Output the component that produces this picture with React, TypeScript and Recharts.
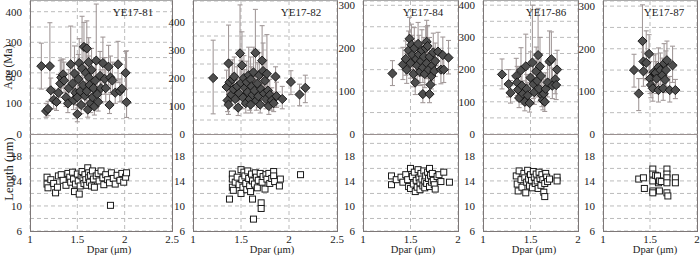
import { CartesianGrid, ErrorBar, Scatter, ScatterChart, XAxis, YAxis } from "recharts";

// [dpar, age, errLow, errHigh]
type AgePt = [number, number, number, number];
// [dpar, length]
type LenPt = [number, number];

const AGE_81: AgePt[] = [
  [1.12, 222, 75, 75], [1.21, 222, 72, 142], [1.17, 75, 20, 25], [1.19, 82, 22, 25],
  [1.22, 143, 35, 40], [1.25, 112, 30, 35], [1.28, 105, 28, 32], [1.3, 135, 35, 60],
  [1.32, 165, 45, 75], [1.33, 185, 50, 60], [1.35, 195, 45, 50], [1.36, 175, 40, 60],
  [1.38, 120, 30, 40], [1.4, 100, 30, 40], [1.41, 150, 40, 60], [1.43, 228, 70, 125],
  [1.45, 165, 45, 60], [1.46, 110, 30, 40], [1.47, 198, 60, 90], [1.48, 135, 40, 50],
  [1.5, 120, 35, 45], [1.5, 65, 25, 30], [1.51, 180, 50, 80], [1.52, 232, 65, 80],
  [1.53, 140, 40, 50], [1.54, 95, 28, 35], [1.55, 215, 60, 170], [1.56, 160, 45, 60],
  [1.57, 285, 70, 80], [1.58, 125, 35, 45], [1.59, 200, 55, 90], [1.6, 280, 75, 90],
  [1.6, 140, 40, 50], [1.61, 80, 25, 30], [1.62, 235, 65, 80], [1.62, 185, 50, 70],
  [1.63, 160, 50, 60], [1.64, 100, 30, 40], [1.65, 210, 60, 70], [1.66, 120, 35, 45],
  [1.67, 150, 40, 55], [1.68, 90, 28, 35], [1.69, 175, 50, 60], [1.7, 240, 90, 185],
  [1.71, 130, 40, 50], [1.72, 105, 30, 40], [1.74, 190, 55, 80], [1.75, 150, 45, 60],
  [1.77, 232, 65, 85], [1.79, 180, 50, 70], [1.8, 150, 45, 60], [1.83, 220, 60, 70],
  [1.84, 95, 28, 35], [1.85, 185, 50, 70], [1.87, 175, 45, 60], [1.9, 135, 35, 45],
  [1.93, 228, 60, 75], [1.95, 140, 35, 40], [1.97, 148, 40, 50], [2.01, 200, 55, 70],
  [2.02, 104, 50, 168],
];

const LEN_81: LenPt[] = [
  [1.18, 14.6], [1.18, 13.5], [1.19, 12.9], [1.22, 14.2], [1.25, 13.6], [1.27, 12.1],
  [1.29, 13.0], [1.3, 14.8], [1.33, 15.0], [1.35, 14.1], [1.38, 13.3], [1.4, 15.2],
  [1.42, 14.6], [1.43, 13.8], [1.45, 15.4], [1.46, 14.3], [1.47, 12.3], [1.48, 13.5],
  [1.5, 15.1], [1.51, 14.0], [1.52, 11.9], [1.53, 13.2], [1.54, 14.8], [1.55, 15.5],
  [1.56, 14.4], [1.57, 13.6], [1.58, 15.0], [1.59, 14.2], [1.6, 13.3], [1.61, 16.1],
  [1.62, 15.3], [1.62, 14.5], [1.63, 13.8], [1.64, 14.9], [1.65, 13.2], [1.66, 15.6],
  [1.67, 14.3], [1.68, 13.0], [1.7, 14.8], [1.72, 15.2], [1.73, 14.0], [1.75, 15.6],
  [1.77, 14.5], [1.78, 13.4], [1.8, 15.0], [1.82, 14.2], [1.84, 13.7], [1.85, 10.1],
  [1.86, 15.3], [1.88, 14.4], [1.9, 13.5], [1.92, 14.9], [1.95, 14.1], [1.97, 15.2],
  [1.99, 13.8], [2.01, 14.6], [2.02, 15.3],
];

const AGE_82: AgePt[] = [
  [1.21, 200, 128, 135], [1.35, 168, 45, 60], [1.36, 120, 40, 50], [1.37, 252, 115, 137],
  [1.37, 105, 35, 45], [1.38, 185, 50, 60], [1.4, 140, 40, 60], [1.41, 195, 50, 70],
  [1.42, 160, 45, 55], [1.43, 205, 60, 70], [1.44, 125, 35, 45], [1.46, 170, 50, 70],
  [1.47, 94, 28, 35], [1.48, 145, 40, 55], [1.49, 288, 88, 173], [1.5, 182, 55, 80],
  [1.51, 245, 80, 120], [1.52, 130, 40, 55], [1.53, 200, 60, 80], [1.54, 165, 50, 65],
  [1.55, 110, 35, 50], [1.56, 185, 55, 75], [1.57, 150, 45, 60], [1.58, 210, 60, 100],
  [1.59, 125, 40, 50], [1.6, 195, 55, 80], [1.6, 105, 30, 40], [1.61, 170, 50, 70],
  [1.62, 140, 40, 55], [1.63, 220, 65, 90], [1.64, 155, 45, 60], [1.65, 290, 100, 155],
  [1.66, 120, 35, 50], [1.67, 180, 55, 75], [1.68, 135, 40, 55], [1.69, 210, 60, 80],
  [1.7, 105, 30, 40], [1.71, 160, 50, 65], [1.72, 262, 85, 125], [1.73, 225, 65, 100],
  [1.74, 145, 40, 55], [1.75, 190, 55, 75], [1.76, 125, 35, 45], [1.77, 215, 65, 140],
  [1.78, 155, 45, 65], [1.79, 100, 30, 40], [1.8, 140, 40, 55], [1.82, 120, 35, 45],
  [1.84, 110, 30, 40], [1.86, 205, 60, 35], [1.87, 135, 40, 50], [1.93, 125, 35, 45],
  [2.02, 186, 45, 40], [2.11, 141, 40, 37], [2.17, 165, 53, 45],
];

const LEN_82: LenPt[] = [
  [1.38, 11.1], [1.41, 15.1], [1.41, 14.3], [1.41, 13.0], [1.42, 12.5], [1.44, 13.8],
  [1.46, 14.6], [1.48, 13.4], [1.5, 12.0], [1.5, 15.8], [1.51, 14.2], [1.52, 13.0],
  [1.53, 15.4], [1.54, 14.8], [1.55, 13.6], [1.56, 12.6], [1.57, 15.6], [1.58, 14.4],
  [1.59, 13.2], [1.6, 12.3], [1.61, 15.1], [1.62, 11.1], [1.62, 14.0], [1.63, 7.9],
  [1.64, 13.5], [1.65, 15.3], [1.66, 14.6], [1.67, 12.9], [1.68, 14.1], [1.7, 15.2],
  [1.71, 10.5], [1.71, 9.6], [1.72, 13.8], [1.73, 14.7], [1.75, 12.7], [1.76, 15.0],
  [1.77, 14.3], [1.79, 15.2], [1.8, 13.6], [1.82, 14.4], [1.84, 15.5], [1.84, 14.8],
  [1.85, 13.9], [1.9, 13.2], [1.91, 14.3], [2.12, 15.0],
];

const AGE_84: AgePt[] = [
  [1.31, 141, 28, 30], [1.42, 162, 35, 40], [1.45, 175, 38, 42], [1.46, 150, 32, 38],
  [1.48, 195, 40, 45], [1.49, 222, 45, 50], [1.5, 165, 35, 40], [1.51, 208, 42, 48],
  [1.52, 185, 40, 45], [1.53, 140, 30, 35], [1.54, 200, 42, 48], [1.55, 120, 28, 30],
  [1.56, 175, 38, 42], [1.57, 160, 35, 40], [1.58, 210, 45, 50], [1.59, 185, 40, 45],
  [1.6, 145, 32, 38], [1.61, 170, 36, 42], [1.62, 195, 42, 48], [1.63, 93, 20, 22],
  [1.63, 155, 35, 40], [1.64, 180, 38, 45], [1.65, 140, 32, 35], [1.66, 200, 42, 50],
  [1.67, 215, 45, 50], [1.67, 165, 36, 42], [1.68, 205, 44, 48], [1.69, 150, 34, 40],
  [1.7, 93, 20, 24], [1.7, 180, 38, 45], [1.71, 115, 25, 30], [1.72, 135, 30, 35],
  [1.73, 160, 35, 40], [1.74, 190, 40, 45], [1.75, 147, 32, 38], [1.76, 170, 36, 42],
  [1.79, 192, 40, 45], [1.82, 150, 33, 38], [1.84, 184, 40, 42], [1.85, 150, 30, 35],
  [1.9, 178, 38, 40],
];

const LEN_84: LenPt[] = [
  [1.3, 13.4], [1.3, 14.8], [1.35, 14.2], [1.4, 14.6], [1.42, 13.8], [1.45, 15.0],
  [1.47, 14.2], [1.48, 13.1], [1.5, 16.0], [1.5, 12.8], [1.52, 14.7], [1.53, 13.5],
  [1.54, 15.4], [1.55, 12.3], [1.56, 14.1], [1.57, 13.0], [1.58, 15.8], [1.59, 14.5],
  [1.6, 12.6], [1.6, 13.7], [1.61, 15.2], [1.62, 14.3], [1.63, 13.2], [1.64, 15.6],
  [1.65, 14.0], [1.65, 12.9], [1.66, 14.8], [1.67, 13.6], [1.68, 15.4], [1.69, 14.4],
  [1.7, 13.1], [1.7, 16.0], [1.71, 14.9], [1.72, 13.8], [1.73, 15.2], [1.74, 14.1],
  [1.75, 13.4], [1.76, 12.7], [1.78, 14.7], [1.8, 15.0], [1.82, 13.9], [1.85, 15.4],
  [1.91, 13.8],
];

const AGE_86: AgePt[] = [
  [1.2, 185, 45, 48], [1.27, 155, 40, 45], [1.29, 128, 32, 38], [1.35, 180, 45, 55],
  [1.36, 160, 40, 50], [1.37, 138, 35, 40], [1.38, 112, 30, 35], [1.4, 198, 55, 70],
  [1.41, 150, 40, 50], [1.42, 125, 32, 40], [1.44, 100, 28, 35], [1.45, 210, 60, 100],
  [1.46, 140, 38, 45], [1.47, 120, 32, 40], [1.49, 96, 28, 35], [1.5, 175, 50, 80],
  [1.52, 222, 70, 178], [1.53, 155, 45, 60], [1.54, 130, 38, 45], [1.56, 195, 55, 75],
  [1.57, 165, 50, 70], [1.58, 245, 75, 145], [1.59, 140, 40, 50], [1.6, 210, 60, 90],
  [1.61, 180, 50, 70], [1.62, 120, 35, 45], [1.63, 105, 30, 40], [1.64, 125, 35, 45],
  [1.65, 100, 30, 35], [1.66, 140, 40, 50], [1.68, 160, 45, 60], [1.7, 225, 70, 95],
  [1.72, 232, 70, 85], [1.73, 150, 40, 55], [1.76, 170, 45, 60], [1.77, 152, 45, 55],
  [1.78, 200, 55, 60],
];

const LEN_86: LenPt[] = [
  [1.35, 14.8], [1.36, 13.5], [1.37, 12.4], [1.38, 15.6], [1.4, 14.2], [1.41, 13.0],
  [1.43, 15.2], [1.44, 14.5], [1.45, 12.1], [1.46, 13.8], [1.47, 15.7], [1.48, 14.3],
  [1.49, 13.2], [1.5, 15.0], [1.51, 14.1], [1.52, 12.9], [1.53, 15.5], [1.54, 14.6],
  [1.55, 13.6], [1.56, 15.1], [1.57, 14.0], [1.58, 12.8], [1.59, 15.4], [1.6, 14.4],
  [1.61, 13.3], [1.62, 15.0], [1.63, 14.2], [1.64, 12.2], [1.65, 11.5], [1.65, 13.6],
  [1.66, 15.2], [1.67, 14.6], [1.68, 13.9], [1.7, 14.3], [1.78, 14.6], [1.78, 14.0],
];

const AGE_87: AgePt[] = [
  [1.33, 150, 40, 37], [1.38, 95, 40, 35], [1.42, 218, 50, 85], [1.43, 170, 40, 50],
  [1.43, 147, 35, 45], [1.46, 167, 40, 75], [1.49, 188, 45, 45], [1.5, 130, 35, 40],
  [1.51, 115, 30, 35], [1.53, 107, 30, 35], [1.54, 145, 35, 40], [1.56, 143, 35, 45],
  [1.57, 130, 35, 40], [1.59, 157, 40, 45], [1.59, 103, 28, 30], [1.61, 150, 35, 40],
  [1.63, 138, 35, 40], [1.64, 107, 28, 35], [1.65, 165, 40, 47], [1.66, 127, 30, 35],
  [1.67, 150, 38, 45], [1.68, 173, 40, 45], [1.71, 103, 28, 32], [1.74, 161, 40, 45],
  [1.77, 103, 20, 25],
];

const LEN_87: LenPt[] = [
  [1.38, 14.3], [1.43, 14.5], [1.44, 12.8], [1.53, 15.9], [1.53, 15.1], [1.53, 14.0],
  [1.53, 12.4], [1.53, 12.1], [1.56, 14.9], [1.58, 14.8], [1.59, 13.7], [1.6, 14.0],
  [1.6, 12.4], [1.62, 13.9], [1.68, 15.9], [1.68, 15.1], [1.68, 14.5], [1.68, 13.7],
  [1.68, 12.1], [1.69, 11.6], [1.77, 14.5], [1.77, 13.7],
];

const X_TICKS_WIDE = [1, 1.5, 2, 2.5];
const X_TICKS_NARROW = [1, 1.5, 2];
const AGE_TICKS_400 = [0, 50, 100, 150, 200, 250, 300, 350, 400];
const AGE_TICKS_300 = [0, 50, 100, 150, 200, 250, 300];
const LEN_TICKS = [6, 8, 10, 12, 14, 16, 18, 20];
const LEN_LABELS = [6, 10, 14, 18];

const SAMPLES = [
  { name: "YE17-81", age: AGE_81, len: LEN_81, left: 30, right: 172, xTicks: X_TICKS_WIDE, ageMax: 435, ageTicks: AGE_TICKS_400, titleX: 133, labelX: 109 },
  { name: "YE17-82", age: AGE_82, len: LEN_82, left: 193, right: 337, xTicks: X_TICKS_WIDE, ageMax: 475, ageTicks: AGE_TICKS_400, titleX: 301, labelX: 272 },
  { name: "YE17-84", age: AGE_84, len: LEN_84, left: 363, right: 458, xTicks: X_TICKS_NARROW, ageMax: 310, ageTicks: AGE_TICKS_300, titleX: 423, labelX: 413 },
  { name: "YE17-86", age: AGE_86, len: LEN_86, left: 483, right: 578, xTicks: X_TICKS_NARROW, ageMax: 413, ageTicks: AGE_TICKS_400, titleX: 546, labelX: 534 },
  { name: "YE17-87", age: AGE_87, len: LEN_87, left: 603, right: 697, xTicks: X_TICKS_NARROW, ageMax: 312, ageTicks: AGE_TICKS_300, titleX: 664, labelX: 655 },
];

const FONT = "'Liberation Serif', 'Times New Roman', serif";
const AXIS_W = 30;
const PAD_R = 14;
const PAD_T = 8;
const AGE_BOTTOM = 134;
const LEN_BOTTOM = 231;
const FRAME = "#7d7777";
const GRID = "#bcbcbc";
const tick = { fontSize: 11, fill: "#222", fontFamily: FONT };

function Diamond(props: any) {
  const { cx, cy } = props;
  if (cx == null || cy == null) return null;
  const r = 4.6;
  return (
    <polygon
      points={`${cx},${cy - r} ${cx + r},${cy} ${cx},${cy + r} ${cx - r},${cy}`}
      fill="#4e4e4e"
      stroke="#111"
      strokeWidth={0.9}
    />
  );
}

function Square(props: any) {
  const { cx, cy } = props;
  if (cx == null || cy == null) return null;
  return <rect x={cx - 3} y={cy - 3} width={6} height={6} fill="#fff" stroke="#1a1a1a" strokeWidth={1} />;
}

function Panel({ s }: { s: (typeof SAMPLES)[number] }) {
  const plotW = s.right - s.left;
  const chartW = AXIS_W + plotW + PAD_R;
  const xMax = s.xTicks[s.xTicks.length - 1];
  const ageData = s.age.map(([x, y, lo, hi]) => ({ x, y, err: [lo, hi] }));
  const lenData = s.len.map(([x, y]) => ({ x, y }));

  return (
    <>
      <div style={{ position: "absolute", left: s.left - AXIS_W, top: 1 - PAD_T }}>
        <ScatterChart
          width={chartW}
          height={AGE_BOTTOM - 1 + PAD_T + 10}
          margin={{ top: PAD_T, right: PAD_R, bottom: 10, left: 0 }}
        >
          <CartesianGrid stroke={GRID} strokeDasharray="4 3" />
          <XAxis type="number" dataKey="x" domain={[1, xMax]} ticks={s.xTicks} hide allowDataOverflow />
          <YAxis
            type="number"
            dataKey="y"
            width={AXIS_W}
            domain={[0, s.ageMax]}
            ticks={s.ageTicks}
            interval={0}
            allowDataOverflow
            axisLine={false}
            tickLine={false}
            tick={tick}
            tickFormatter={(v: number) => (v % 100 === 0 ? String(v) : "")}
          />
          <Scatter data={ageData} shape={Diamond} isAnimationActive={false}>
            <ErrorBar dataKey="err" direction="y" width={2.5} stroke="#a39a9a" strokeWidth={1.1} />
          </Scatter>
        </ScatterChart>
      </div>
      <div style={{ position: "absolute", left: s.left - AXIS_W, top: AGE_BOTTOM }}>
        <ScatterChart width={chartW} height={LEN_BOTTOM - AGE_BOTTOM + 16} margin={{ top: 0, right: PAD_R, bottom: 0, left: 0 }}>
          <CartesianGrid stroke={GRID} strokeDasharray="4 3" />
          <XAxis
            type="number"
            dataKey="x"
            domain={[1, xMax]}
            ticks={s.xTicks}
            interval={0}
            height={16}
            allowDataOverflow
            axisLine={false}
            tickLine={false}
            tickSize={2}
            tickMargin={2}
            tick={tick}
          />
          <YAxis
            type="number"
            dataKey="y"
            width={AXIS_W}
            domain={[6, 21.5]}
            ticks={LEN_TICKS}
            interval={0}
            allowDataOverflow
            axisLine={false}
            tickLine={false}
            tick={tick}
            tickFormatter={(v: number) => (LEN_LABELS.includes(v) ? String(v) : "")}
          />
          <Scatter data={lenData} shape={Square} isAnimationActive={false} />
        </ScatterChart>
      </div>
      <div
        style={{
          position: "absolute",
          left: s.left,
          top: 0,
          width: plotW + 1,
          height: LEN_BOTTOM + 1,
          border: `1px solid ${FRAME}`,
          borderTopColor: "#aaa",
          boxSizing: "border-box",
          pointerEvents: "none",
        }}
      />
      <div style={{ position: "absolute", left: s.left, top: AGE_BOTTOM - 0.5, width: plotW + 1, height: 1.5, background: "#9a9090" }} />
      <div style={{ position: "absolute", left: s.titleX - 30, width: 60, top: 7, textAlign: "center", fontSize: 11, color: "#222" }}>
        {s.name}
      </div>
      <div style={{ position: "absolute", left: s.labelX - 40, width: 80, top: 245, textAlign: "center", fontSize: 10.5, color: "#222" }}>
        Dpar (μm)
      </div>
    </>
  );
}

export default function App() {
  return (
    <div
      style={{
        position: "absolute",
        left: 0,
        top: 0,
        width: 700,
        height: 257,
        overflow: "hidden",
        background: "#fff",
        fontFamily: FONT,
        lineHeight: 1,
      }}
    >
      {SAMPLES.map((s) => (
        <Panel key={s.name} s={s} />
      ))}
      <div
        style={{
          position: "absolute",
          left: 9 - 40,
          top: 67 - 6,
          width: 80,
          height: 12,
          textAlign: "center",
          fontSize: 11.5,
          color: "#222",
          transform: "rotate(-90deg)",
        }}
      >
        Age (Ma)
      </div>
      <div
        style={{
          position: "absolute",
          left: 9 - 45,
          top: 169 - 6,
          width: 90,
          height: 12,
          textAlign: "center",
          fontSize: 12.5,
          color: "#222",
          transform: "rotate(-90deg)",
        }}
      >
        Length (μm)
      </div>
    </div>
  );
}
